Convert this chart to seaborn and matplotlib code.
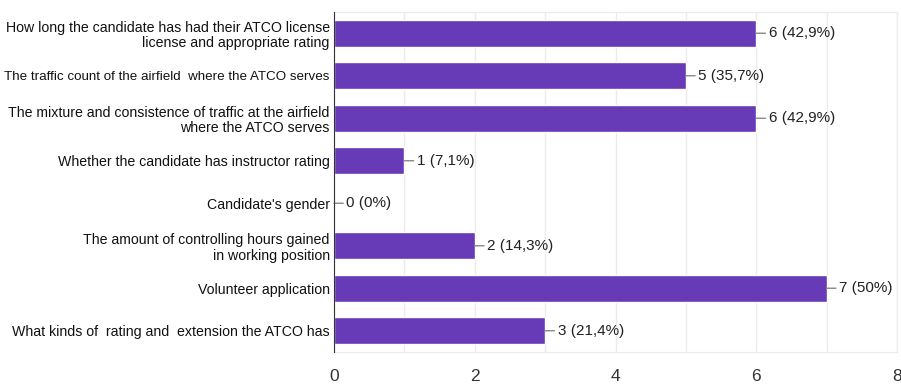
import matplotlib
matplotlib.use('Agg')
import matplotlib.pyplot as plt
import seaborn as sns
import pandas as pd

# Survey answers
labels = [
    "How long the candidate has had their ATCO license\nlicense and appropriate rating",
    "The traffic count of the airfield  where the ATCO serves",
    "The mixture and consistence of traffic at the airfield\nwhere the ATCO serves",
    "Whether the candidate has instructor rating",
    "Candidate's gender",
    "The amount of controlling hours gained\nin working position",
    "Volunteer application",
    "What kinds of  rating and  extension the ATCO has",
]
counts = [6, 5, 6, 1, 0, 2, 7, 3]
percents = ["42,9%", "35,7%", "42,9%", "7,1%", "0%", "14,3%", "50%", "21,4%"]
xticks = [0, 2, 4, 6, 8]

sns.set_style('white')
plt.rcParams['font.family'] = ['Liberation Sans', 'DejaVu Sans']

df = pd.DataFrame({'label': labels, 'count': counts})

fig = plt.figure(figsize=(9.01, 3.88), dpi=100)
ax = fig.add_axes([334 / 901, 1 - 352 / 388, 563 / 901, 340 / 388])
sns.barplot(data=df, y='label', x='count', orient='h', color='#673ab7',
            saturation=1, width=0.64, ax=ax, zorder=3)

ax.set_xlim(0, 8)
ax.set_ylim(7.5, -0.5)
ax.set_xticks(xticks)
ax.set_xticks(range(0, 9), minor=True)
ax.grid(axis='x', which='both', color='#ebebeb', lw=1, zorder=0)
ax.set_xlabel('')
ax.set_ylabel('')
ax.tick_params(axis='x', which='both', length=0, pad=12, labelsize=12.5, labelcolor='#333333')
ax.tick_params(axis='y', length=0, pad=3, labelsize=10.2, labelcolor='#111111')
for lab in ax.get_yticklabels():
    lab.set_linespacing(1.15)
    # the long one-liner is squeezed in the original
    if lab.get_text().startswith('The traffic count'):
        lab.set_fontsize(9.6)

for s in ['top', 'right', 'bottom']:
    ax.spines[s].set_color('#ebebeb')
ax.spines['left'].set_color('#333333')
ax.spines['left'].set_zorder(4)

for i, (c, p) in enumerate(zip(counts, percents)):
    ax.annotate(f"{c} ({p})", xy=(c, i), xytext=(9, 0), textcoords='offset points',
                va='center', ha='left', fontsize=11, color='#222222',
                arrowprops=dict(arrowstyle='-', color='#888888', lw=1,
                                shrinkA=0, shrinkB=0))

fig.savefig('out.png', dpi=100)
